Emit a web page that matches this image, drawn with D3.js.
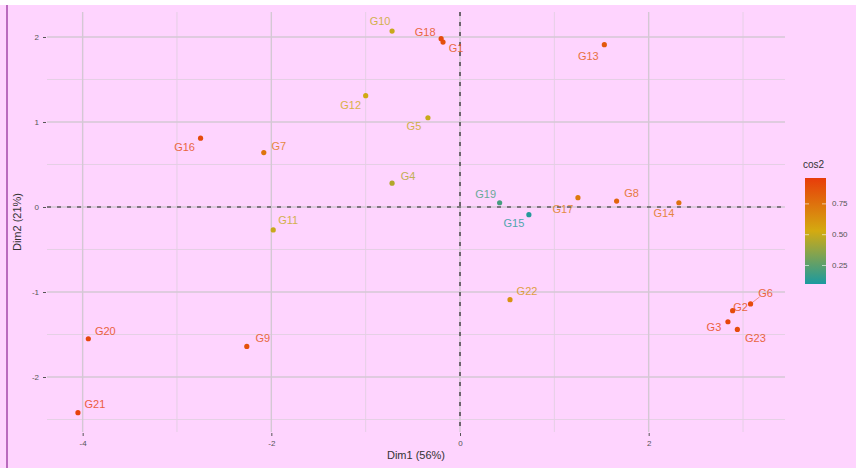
<!DOCTYPE html>
<html>
<head>
<meta charset="utf-8">
<script src="https://cdn.jsdelivr.net/npm/d3@7"></script>
<style>
  body { margin: 0; background: #ffffff; }
  svg { display: block; font-family: "Liberation Sans", Arial, sans-serif; }
</style>
</head>
<body>
<div id="chart"></div>
<script>
// individuals on the first two dimensions
var names = ["G1","G2","G3","G4","G5","G6","G7","G8","G9","G10","G11","G12",
             "G13","G14","G15","G16","G17","G18","G19","G20","G21","G22","G23"];
var dim1 = [-0.18, 2.89, 2.84, -0.72, -0.34, 3.08, -2.08, 1.66, -2.26, -0.72, -1.98, -1.00,
            1.53, 2.32, 0.73, -2.75, 1.25, -0.20, 0.42, -3.94, -4.05, 0.53, 2.94];
var dim2 = [1.94, -1.22, -1.35, 0.28, 1.05, -1.14, 0.64, 0.07, -1.64, 2.07, -0.27, 1.31,
            1.91, 0.05, -0.09, 0.81, 0.11, 1.98, 0.05, -1.55, -2.42, -1.09, -1.44];
var cos2 = [0.88, 0.90, 0.93, 0.45, 0.50, 0.90, 0.74, 0.80, 0.88, 0.50, 0.50, 0.52,
            0.85, 0.75, 0.12, 0.90, 0.72, 0.90, 0.20, 0.92, 0.94, 0.62, 0.90];

var xTicks = [-4, -2, 0, 2];
var yTicks = [2, 1, 0, -1, -2];
var xMinor = [-3, -1, 1, 3];
var yMinor = [1.5, 0.5, -0.5, -1.5, -2.5];
var legendTicks = [0.25, 0.50, 0.75];

// where each label sits relative to its point (repelled labels)
var labelOffset = {
  G1: [13, 6], G2: [8, -4], G3: [-14, 5], G4: [16, -7], G5: [-14, 8], G6: [15, -11],
  G7: [15, -7], G8: [15, -8], G9: [16, -8], G10: [-12, -10], G11: [15, -10], G12: [-15, 9],
  G13: [-16, 11], G14: [-15, 10], G15: [-15, 8], G16: [-16, 9], G17: [-15, 11], G18: [-16, -7],
  G19: [-14, -9], G20: [17, -8], G21: [17, -9], G22: [17, -9], G23: [18, 9]
};

var width = 856, height = 468;
var panel = { left: 47, right: 785, top: 12, bottom: 432 };
var bg = "#fed4fe";

var x = d3.scaleLinear().domain([-4.378, 3.445]).range([panel.left, panel.right]);
var y = d3.scaleLinear().domain([2.294, -2.647]).range([panel.top, panel.bottom]);

var cDomain = [0.10, 0.96];
var color = d3.scaleLinear()
  .domain([cDomain[0], (cDomain[0] + cDomain[1]) / 2, cDomain[1]])
  .range(["#1a9aa0", "#d4aa10", "#e83c0a"])
  .interpolate(d3.interpolateRgb);

var data = names.map(function(n, i) {
  return { name: n, x: dim1[i], y: dim2[i], c: cos2[i] };
});

var svg = d3.select("#chart").append("svg")
  .attr("width", width)
  .attr("height", height);

svg.append("rect").attr("width", width).attr("height", height).attr("fill", "#ffffff");
svg.append("rect").attr("y", 5).attr("width", width).attr("height", height - 5).attr("fill", bg);
svg.append("line")
  .attr("x1", 7).attr("x2", 7).attr("y1", 5).attr("y2", height)
  .attr("stroke", "#a347a8").attr("stroke-width", 1.5);

// grid: minor first, then major
var grid = svg.append("g");
xMinor.forEach(function(v) {
  grid.append("line").attr("x1", x(v)).attr("x2", x(v))
    .attr("y1", panel.top).attr("y2", panel.bottom)
    .attr("stroke", "#e2cfe2").attr("stroke-width", 0.9);
});
yMinor.forEach(function(v) {
  grid.append("line").attr("x1", panel.left).attr("x2", panel.right)
    .attr("y1", y(v)).attr("y2", y(v))
    .attr("stroke", "#e2cfe2").attr("stroke-width", 0.9);
});
xTicks.forEach(function(v) {
  grid.append("line").attr("x1", x(v)).attr("x2", x(v))
    .attr("y1", panel.top).attr("y2", panel.bottom)
    .attr("stroke", "#d4c8d4").attr("stroke-width", 1.4);
});
yTicks.forEach(function(v) {
  grid.append("line").attr("x1", panel.left).attr("x2", panel.right)
    .attr("y1", y(v)).attr("y2", y(v))
    .attr("stroke", "#d4c8d4").attr("stroke-width", 1.4);
});

// zero reference lines
svg.append("line")
  .attr("x1", panel.left).attr("x2", panel.right).attr("y1", y(0)).attr("y2", y(0))
  .attr("stroke", "#222").attr("stroke-width", 1.2).attr("stroke-dasharray", "4,6");
svg.append("line")
  .attr("x1", x(0)).attr("x2", x(0)).attr("y1", panel.top).attr("y2", panel.bottom)
  .attr("stroke", "#222").attr("stroke-width", 1.2).attr("stroke-dasharray", "4,6");

// axes
var fmt = d => String(d);
var xAxis = svg.append("g")
  .attr("transform", "translate(0," + (panel.bottom + 1) + ")")
  .call(d3.axisBottom(x).tickValues(xTicks).tickFormat(fmt).tickSize(3).tickPadding(4));
var yAxis = svg.append("g")
  .attr("transform", "translate(" + (panel.left - 1) + ",0)")
  .call(d3.axisLeft(y).tickValues(yTicks).tickFormat(fmt).tickSize(3).tickPadding(4));
[xAxis, yAxis].forEach(function(a) {
  a.select(".domain").remove();
  a.selectAll(".tick line").attr("stroke", "#555");
  a.selectAll(".tick text").attr("fill", "#555").attr("font-size", 8)
    .attr("font-family", "Liberation Sans, Arial, sans-serif");
});

svg.append("text")
  .attr("x", (panel.left + panel.right) / 2).attr("y", 459)
  .attr("text-anchor", "middle").attr("font-size", 11).attr("fill", "#333")
  .text("Dim1 (56%)");
svg.append("text")
  .attr("transform", "translate(21," + ((panel.top + panel.bottom) / 2) + ") rotate(-90)")
  .attr("text-anchor", "middle").attr("font-size", 11).attr("fill", "#333")
  .text("Dim2 (21%)");

// repel segment for G6
data.filter(d => d.name === "G6").forEach(function(d) {
  var o = labelOffset[d.name];
  svg.append("line")
    .attr("x1", x(d.x)).attr("y1", y(d.y))
    .attr("x2", x(d.x) + o[0] - 6).attr("y2", y(d.y) + o[1] + 4)
    .attr("stroke", color(d.c)).attr("stroke-width", 0.6).attr("opacity", 0.8);
});

// points
svg.append("g").selectAll("circle")
  .data(data)
  .enter().append("circle")
  .attr("cx", d => x(d.x))
  .attr("cy", d => y(d.y))
  .attr("r", 2.6)
  .attr("fill", d => color(d.c));

// labels
svg.append("g").selectAll("text")
  .data(data)
  .enter().append("text")
  .attr("x", d => x(d.x) + labelOffset[d.name][0])
  .attr("y", d => y(d.y) + labelOffset[d.name][1])
  .attr("text-anchor", "middle")
  .attr("dominant-baseline", "central")
  .attr("font-size", 11)
  .attr("fill", d => color(d.c))
  .attr("opacity", 0.8)
  .text(d => d.name);

// colour bar legend
var bar = { x: 805, y: 178, w: 21, h: 106 };
var ly = d3.scaleLinear().domain(cDomain).range([bar.y + bar.h, bar.y]);
var defs = svg.append("defs");
var grad = defs.append("linearGradient").attr("id", "cosgrad")
  .attr("x1", 0).attr("x2", 0).attr("y1", 1).attr("y2", 0);
d3.range(0, 1.0001, 0.1).forEach(function(t) {
  grad.append("stop").attr("offset", t)
    .attr("stop-color", color(cDomain[0] + t * (cDomain[1] - cDomain[0])));
});
svg.append("rect")
  .attr("x", bar.x).attr("y", bar.y).attr("width", bar.w).attr("height", bar.h)
  .attr("fill", "url(#cosgrad)");
legendTicks.forEach(function(v) {
  svg.append("line").attr("x1", bar.x).attr("x2", bar.x + 4)
    .attr("y1", ly(v)).attr("y2", ly(v)).attr("stroke", "#fff").attr("stroke-width", 0.6);
  svg.append("line").attr("x1", bar.x + bar.w - 4).attr("x2", bar.x + bar.w)
    .attr("y1", ly(v)).attr("y2", ly(v)).attr("stroke", "#fff").attr("stroke-width", 0.6);
  svg.append("text").attr("x", bar.x + bar.w + 6).attr("y", ly(v))
    .attr("dominant-baseline", "central").attr("font-size", 8).attr("fill", "#555")
    .text(d3.format(".2f")(v));
});
svg.append("text").attr("x", bar.x - 2).attr("y", 168)
  .attr("font-size", 10).attr("fill", "#333").text("cos2");
</script>
</body>
</html>
